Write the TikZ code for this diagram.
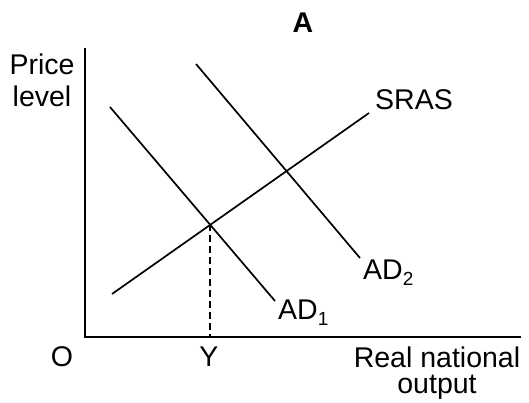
\documentclass[tikz,border=0pt]{standalone}
\usepackage{fontspec}
\setmainfont{Liberation Sans}
\newcommand{\lowsub}[1]{\raisebox{-6pt}{\fontsize{19}{20}\selectfont #1}}
\begin{document}
\begin{tikzpicture}[x=1pt,y=-1pt,
  curve/.style={line width=1.7pt,line cap=butt},
  axis/.style={line width=2.3pt},
  lbl/.style={font=\fontsize{28.5}{30}\selectfont,inner sep=0pt},
  guide/.style={line width=1.3pt,dash pattern=on 7pt off 4pt}]
\useasboundingbox (0,0) rectangle (529,403);
% axes
\coordinate (top) at (85,48);
\coordinate (orig) at (85,337);
\coordinate (right) at (521,337);
\draw[axis] (top) -- (orig) -- (right);
% curves
\coordinate (s1) at (112,294);
\coordinate (s2) at (369,113);
\coordinate (a1) at (110,107);
\coordinate (a2) at (275,301);
\coordinate (b1) at (196,64);
\coordinate (b2) at (360,258);
\draw[curve] (s1) -- (s2);
\draw[curve] (a1) -- (a2);
\draw[curve] (b1) -- (b2);
\coordinate (eq) at (210,224);
\coordinate (eqx) at (210,336);
\draw[guide] (eq) -- (eqx);
% labels
\node[lbl,font=\fontsize{28.5}{30}\selectfont\bfseries] (A) at (303,23) {A};
\node[lbl] (price) at (42,64) {Price};
\node[lbl] (level) at (42,96) {level};
\node[lbl] (sras) at (414,100) {SRAS};
\node[lbl,anchor=base west] (ad2) at (363,279) {AD\lowsub{2}};
\node[lbl,anchor=base west] (ad1) at (278,319) {AD\lowsub{1}};
\node[lbl] (O) at (62,357) {O};
\node[lbl] (Y) at (209,357) {Y};
\node[lbl] (rn) at (437,357) {Real national};
\node[lbl] (out) at (437,387) {output};
\end{tikzpicture}
\end{document}
